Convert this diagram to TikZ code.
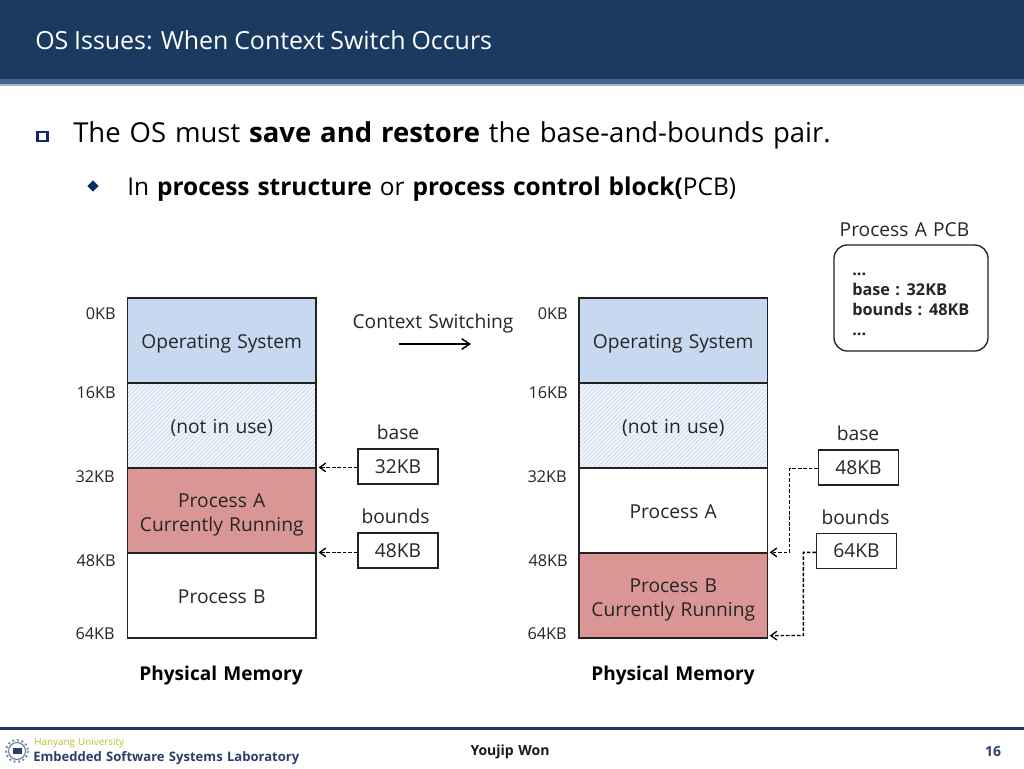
\documentclass[tikz,border=0pt]{standalone}
\usepackage{fontspec}
\setmainfont[WordSpace=1.25]{Open Sans}
\newfontfamily\ttlfont[WordSpace=0.9]{Open Sans}
\usetikzlibrary{arrows.meta,patterns.meta,shapes.geometric}
\definecolor{hdr}{HTML}{1A3A60}
\definecolor{hdrb}{HTML}{3F6795}
\definecolor{navy}{HTML}{0F2A6B}
\definecolor{osblue}{HTML}{C6D9F0}
\definecolor{hatchbg}{HTML}{D6E3F3}
\definecolor{run}{HTML}{D99694}
\definecolor{edge}{HTML}{222222}
\definecolor{ylw}{HTML}{BFBF2C}
\definecolor{lab}{HTML}{2A3F6B}
\newcommand{\fsz}[1]{\fontsize{#1}{#1}\selectfont}
\newcommand{\mstrut}{\rule{0pt}{17.5pt}}
\tikzset{
 x=0.75pt,y=-0.75pt,
 memblock/.style={draw=edge,line width=0.9pt,minimum width=141.4pt,minimum height=63.75pt,inner sep=0pt,align=center,font=\fsz{14.4}\linespread{1.25}\selectfont,text=black!85,execute at begin node={\rule{0pt}{16.5pt}},execute at end node={\rule[-4pt]{0pt}{4pt}}},
 osblock/.style={memblock,fill=osblue},
 freeblock/.style={memblock,preaction={fill=hatchbg},preaction={pattern={Lines[angle=45,distance=2.2pt,line width=0.7pt]},pattern color=white}},
 runblock/.style={memblock,fill=run},
 plainblock/.style={memblock,fill=white},
 regbox/.style={draw=edge,line width=0.9pt,minimum width=60pt,minimum height=26.25pt,inner sep=0pt,font=\fsz{14.4},text=black!85},
 kb/.style={font=\fsz{12.2},anchor=east,inner sep=0pt,text=black!85},
 lbl/.style={font=\fsz{14.4},inner sep=0pt,text=black!85},
 memtitle/.style={font=\bfseries\fsz{14.3},inner sep=0pt,text=black},
 ptr/.style={draw=black,line width=1pt,dash pattern=on 2.7pt off 1.4pt,-{Straight Barb[length=4.5pt,width=6.5pt]}},
 ctxarrow/.style={draw=black,line width=1.1pt,-{Straight Barb[length=6pt,width=8pt]}},
}
\begin{document}
\begin{tikzpicture}
\useasboundingbox (0,0) rectangle (1024,768);
\fill[white] (0,0) rectangle (1024,768);
% header
\fill[black!30] (0,83) rectangle (1024,86);
\fill[hdrb] (0,78) rectangle (1024,83.5);
\fill[hdr] (0,0) rectangle (1024,79);
\node[anchor=base west,inner sep=0pt,text=white,font=\ttlfont\fsz{18.7}] (title) at (35,49) {OS Issues: When Context Switch Occurs};
% bullets
\draw[navy,line width=1.7pt] (37.5,132) rectangle (47.5,141);
\node[diamond,fill=navy,inner sep=0pt,minimum width=8.5pt,minimum height=8.5pt] (dia) at (93,186) {};
\node[anchor=base west,inner sep=0pt,font=\fsz{20.6}] (head) at (73,142) {The OS must \textbf{save and restore} the base-and-bounds pair.};
\node[anchor=base west,inner sep=0pt,font=\fsz{18.35}] (sub) at (127,195.5) {In \textbf{process structure} or \textbf{process control block(}PCB)};
% PCB
\node[lbl] (pcbt) at (904.5,229.5) {Process A PCB};
\node[draw=edge,line width=1pt,rounded corners=10pt,minimum width=115.5pt,minimum height=79.5pt,inner sep=0pt] (pcb) at (911,298) {};
\node[anchor=west,inner sep=0pt,align=left,font=\bfseries\fontsize{12.2}{15}\selectfont,text=black!85] (pcbtxt) at (852,304) {...\\base : 32KB\\bounds : 48KB\\...};
% left memory
\node[osblock]   (la) at (221.75,340.5) {Operating System};
\node[freeblock] (lb) at (221.75,425.5) {(not in use)};
\node[runblock]  (lc) at (221.75,510.5) {\mstrut Process A\\Currently Running};
\node[plainblock](ld) at (221.75,595.5) {Process B};
% right memory
\node[osblock]   (ra) at (673.25,340.5) {Operating System};
\node[freeblock] (rb) at (673.25,425.5) {(not in use)};
\node[plainblock](rc) at (673.25,510.5) {Process A};
\node[runblock]  (rd) at (673.25,595.5) {\mstrut Process B\\Currently Running};
% address labels
\node[kb] (k1) at (116,314) {0KB};
\node[kb] (k2) at (116,393) {16KB};
\node[kb] (k3) at (115,477) {32KB};
\node[kb] (k4) at (116,561) {48KB};
\node[kb] (k5) at (115,634) {64KB};
\node[kb] (k6) at (568,314) {0KB};
\node[kb] (k7) at (568,393) {16KB};
\node[kb] (k8) at (567,477) {32KB};
\node[kb] (k9) at (568,561) {48KB};
\node[kb] (k10) at (567,634) {64KB};
% context switching
\node[lbl] (cs) at (433,324) {Context Switching};
\coordinate (cs1) at (399,344);
\coordinate (cs2) at (471,344);
\draw[ctxarrow] (cs1) -- (cs2);
% registers left
\node[lbl] (lbase) at (398,432) {base};
\node[regbox] (lr1) at (398,466.5) {32KB};
\node[lbl] (lbnd) at (395.5,516) {bounds};
\node[regbox] (lr2) at (398,550.5) {48KB};
\draw[ptr] (lr1.west |- lc.north east) -- ([xshift=1.5pt]lc.north east);
\draw[ptr] (lr2.west |- ld.north east) -- ([xshift=1.5pt]ld.north east);
% registers right
\node[lbl] (rbase) at (858,433) {base};
\node[regbox] (rr1) at (858.5,467.5) {48KB};
\node[lbl] (rbnd) at (855.5,517) {bounds};
\node[regbox] (rr2) at (856.5,551) {64KB};
\coordinate (rj1) at (789.4,468.4);
\coordinate (rj2) at (803.4,552.4);
\draw[ptr] (rr1.west |- rj1) -- (rj1) -- (rj1 |- rd.north east) -- ([xshift=1.2pt]rd.north east);
\draw[ptr] (rr2.west |- rj2) -- (rj2) -- (rj2 |- 0,635.4) -- ([xshift=1.2pt,yshift=2.2pt]rd.south east);
% captions
\node[memtitle] (m1) at (221,676) {Physical Memory};
\node[memtitle] (m2) at (673,676) {Physical Memory};
% footer
\fill[hdr] (0,727) rectangle (1024,729.5);
\draw[lab!70,line width=0.8pt] (17,751) circle (8.5);
\draw[lab!60,line width=1.5pt,dotted] (17,751) circle (11);
\fill[lab] (12.5,747.5) rectangle (21.5,754);
\node[anchor=base west,inner sep=0pt,text=ylw,font=\fsz{7.4}] (uni) at (34,745) {Hanyang University};
\node[anchor=base west,inner sep=0pt,text=lab,font=\bfseries\fsz{9.8}] (lab) at (33,761.5) {Embedded Software Systems Laboratory};
\node[inner sep=0pt,font=\bfseries\fsz{10.5},text=black!90] (au) at (510,751.5) {Youjip Won};
\node[inner sep=0pt,font=\bfseries\fsz{10.5},text=lab] (pg) at (993,751.5) {16};
\end{tikzpicture}
\end{document}
